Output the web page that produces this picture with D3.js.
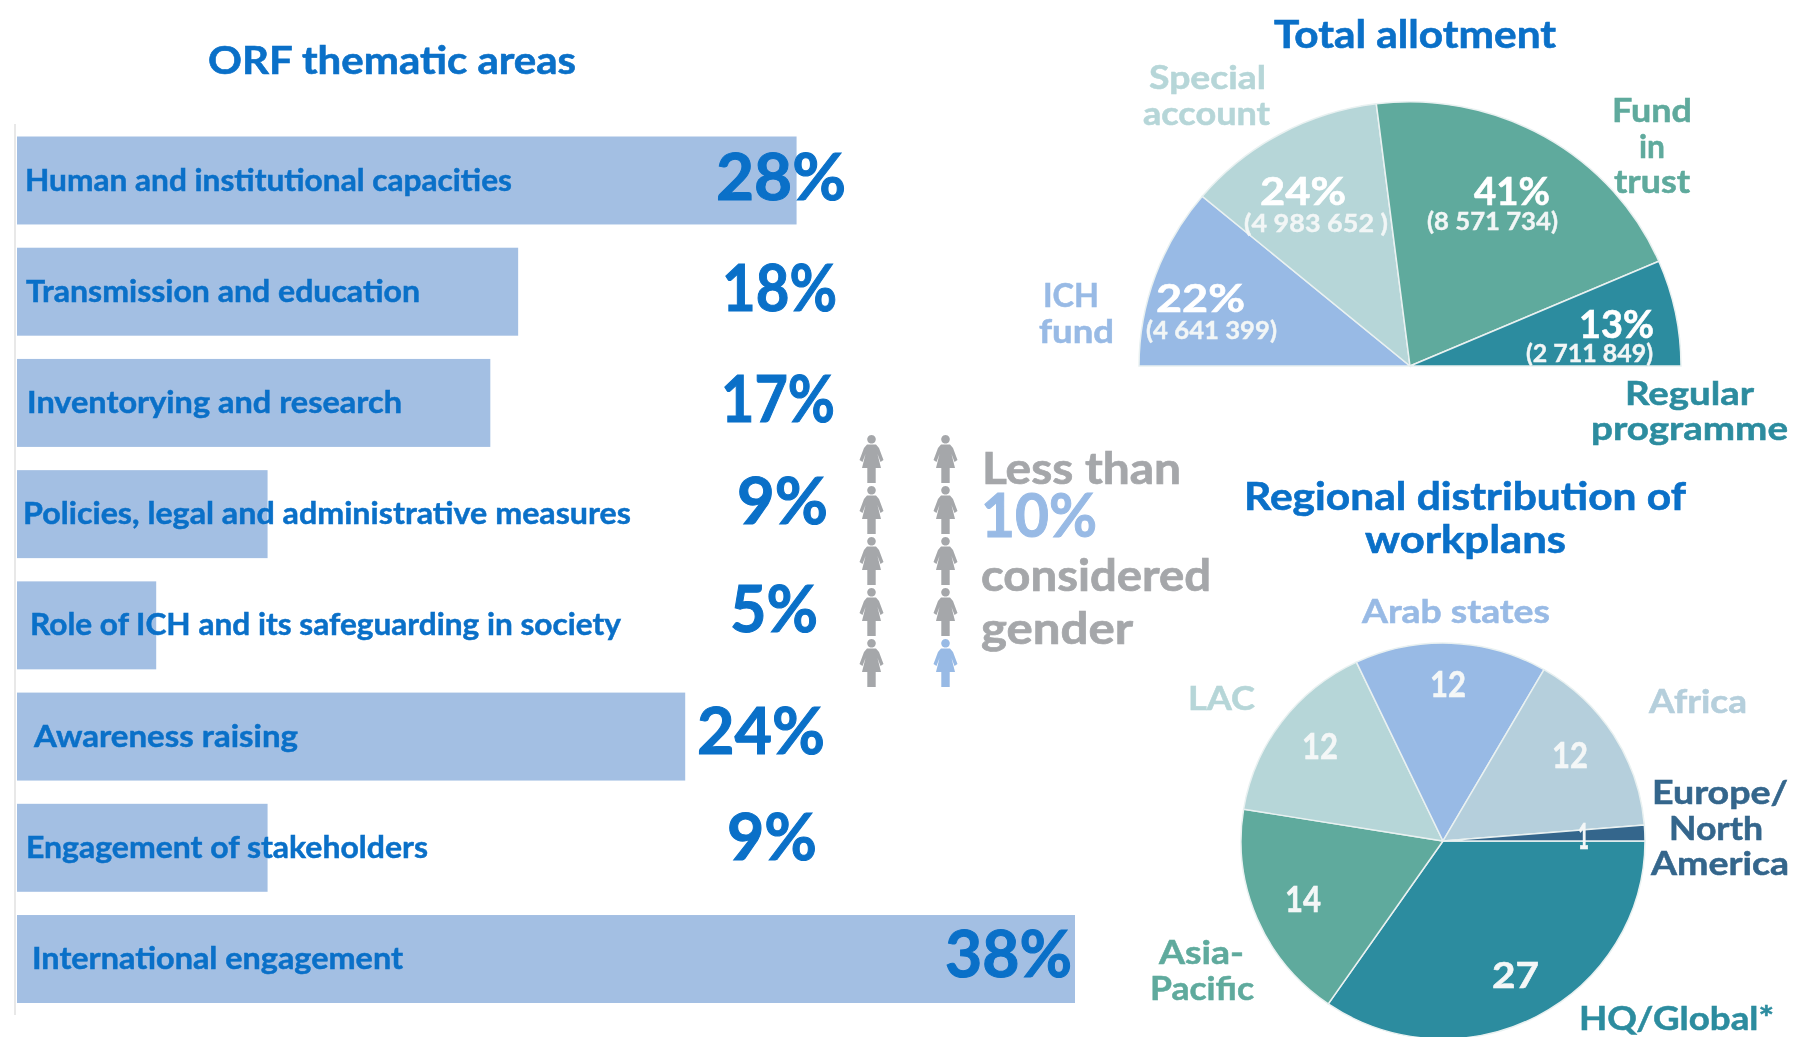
<!DOCTYPE html>
<html><head><meta charset="utf-8">
<style>html,body{margin:0;padding:0;background:#fff;overflow:hidden}svg{display:block;filter:blur(.6px)}text{font-family:Lato,sans-serif;font-weight:700}</style>
<script src="https://cdn.jsdelivr.net/npm/d3@7"></script></head><body>
<script>
// ---- data ----
const areaNames=["Human and institutional capacities","Transmission and education","Inventorying and research","Policies, legal and administrative measures","Role of ICH and its safeguarding in society","Awareness raising","Engagement of stakeholders","International engagement"];
const areaShares=[28,18,17,9,5,24,9,38];
const fundNames=["ICH fund","Special account","Fund in trust","Regular programme"];
const fundAmounts=[4641399,4983652,8571734,2711849];
const fundShares=[22,24,41,13];
const fundAmountLabels=["(4 641 399)","(4 983 652 )","(8 571 734)","(2 711 849)"];
const regionNames=["HQ/Global*","Asia-Pacific","LAC","Arab states","Africa","Europe/North America"];
const regionCounts=[27,14,12,12,12,1];
const genderIcons=[0,1,0,1,0,1,0,1,0,2];
const genderLines=["Less than","10%","considered","gender"];

// ---- style and layout ----
const BLUE="#0a70c8",LIGHT="#98bae5",BAR="#a3bfe3",PALE="#b6d6d8",GREEN="#5faa9d",TEAL="#2c8c9f",ICE="#b5cfdc",NAVY="#34668c",GREY="#a5a7aa";
const W=1794,H=1037;
const svg=d3.select("body").append("svg").attr("width",W).attr("height",H);
function T(s,x0,x1,base,size,fill){
  return svg.append("text").text(s).attr("x",x0).attr("y",base).attr("font-size",size).attr("fill",fill)
    .attr("stroke",fill).attr("stroke-width",size*0.016)
    .attr("textLength",x1-x0).attr("lengthAdjust","spacingAndGlyphs");
}

// ---- bars ----
const x=d3.scaleLinear().domain([0,38]).range([17,1075]);
const y=d3.scaleBand().domain(areaNames).range([136.5,1003]).paddingInner(.209);
svg.append("line").attr("x1",15).attr("x2",15).attr("y1",124).attr("y2",1015).attr("stroke","#e8e8e8").attr("stroke-width",2);
svg.selectAll("rect.bar").data(areaNames).join("rect").attr("class","bar")
  .attr("x",x(0)).attr("y",d=>y(d)).attr("height",y.bandwidth())
  .attr("width",(d,i)=>x(areaShares[i])-x(0)).attr("fill",BAR);
T("ORF thematic areas",208,576,74,39,BLUE);
const areaLabelX=[[25,512],[26,420],[27,402],[23,631],[30,621],[34,298],[26,428],[32,403]];
const areaPctX=[[716,846],[722,837],[721,835],[737,828],[730,818],[697,825],[727,817],[945,1072]];
const areaPctBase=[200,311,422,524,632,754,860,977];
areaNames.forEach((n,i)=>{
  T(n,areaLabelX[i][0],areaLabelX[i][1],y(n)+54,30,BLUE);
  T(areaShares[i]+"%",areaPctX[i][0],areaPctX[i][1],areaPctBase[i],65,BLUE);
});

// ---- half pie ----
const semi=d3.pie().sort(null).startAngle(-Math.PI/2).endAngle(Math.PI/2)(fundAmounts);
const semiArc=d3.arc().innerRadius(0).outerRadius(271);
const fundColors=[LIGHT,PALE,GREEN,TEAL];
svg.append("g").attr("transform","translate(1410,366) scale(1,.975)").selectAll("path").data(semi).join("path")
  .attr("d",semiArc).attr("fill",(d,i)=>fundColors[i]).attr("stroke","#e9f1f1").attr("stroke-width",1.5);
T("Total allotment",1274,1556,48,39,BLUE);
T("Special",1149,1266,89,33,PALE);T("account",1143,1270,125,33,PALE);
T("Fund",1612,1692,122,33,GREEN);T("in",1639,1665,158,33,GREEN);T("trust",1614,1690,193,33,GREEN);
T("ICH",1043,1099,307,33,LIGHT);T("fund",1039,1114,343,33,LIGHT);
T("Regular",1625,1754,405,33,TEAL);T("programme",1591,1788,440,33,TEAL);
const fundPct=[[1156,1245,312],[1260,1346,205],[1474,1550,205],[1579,1654,338]];
const fundAmt=[[1146,1277,339],[1244,1388,232],[1427,1558,230],[1526,1653,362]];
fundShares.forEach((v,i)=>{
  T(v+"%",fundPct[i][0],fundPct[i][1],fundPct[i][2],39,"#fff");
  T(fundAmountLabels[i],fundAmt[i][0],fundAmt[i][1],fundAmt[i][2],25,"#f2f6f6");
});

// ---- regional pie ----
const pie=d3.pie().sort(null).startAngle(Math.PI/2).endAngle(Math.PI/2+2*Math.PI)(regionCounts);
const pieArc=d3.arc().innerRadius(0).outerRadius(202);
const regionColors=[TEAL,GREEN,PALE,LIGHT,ICE,NAVY];
svg.append("g").attr("transform","translate(1443,841) scale(1,.98)").selectAll("path").data(pie).join("path")
  .attr("d",pieArc).attr("fill",(d,i)=>regionColors[i]).attr("stroke","#e9f1f1").attr("stroke-width",1.5);
T("Regional distribution of",1244,1686,510,39,BLUE);
T("workplans",1365,1566,553,39,BLUE);
T("Arab states",1362,1550,623,33,LIGHT);
T("LAC",1188,1255,710,33,PALE);
T("Africa",1649,1747,713,33,ICE);
T("Europe/",1652,1788,804,33,NAVY);T("North",1669,1763,840,33,NAVY);T("America",1651,1789,875,33,NAVY);
T("Asia-",1159,1244,964,33,GREEN);T("Pacific",1150,1254,1000,33,GREEN);
T("HQ/Global*",1579,1774,1030,33,TEAL);
const regionNum=[[1492,1539,988],[1285,1321,912],[1302,1338,759],[1430,1466,697],[1552,1588,768],[1578,1589,849]];
regionCounts.forEach((v,i)=>T(String(v),regionNum[i][0],regionNum[i][1],regionNum[i][2],36,"#f4f7f7"));

// ---- gender icons ----
const glyph="M12.5 0a4.3 4.3 0 1 1-.01 0ZM8 9.5H17L20 13L24.5 25L21.5 27L18.5 19L22 33H16.7V48H8.3V33H3L6.5 19L3.5 27L.5 25L5 13Z";
const iconX=d3.scalePoint().domain([0,1]).range([859,933]);
const iconY=d3.scalePoint().domain([0,1,2,3,4]).range([435,639]);
svg.selectAll("path.icon").data(genderIcons).join("path").attr("class","icon").attr("d",glyph)
  .attr("transform",(d,i)=>`translate(${iconX(i%2)},${iconY(Math.floor(i/2))})`)
  .attr("fill",d=>d===2?LIGHT:GREY);
T(genderLines[0],982,1181,484,44,GREY);
T(genderLines[1],981,1097,537,62,LIGHT);
T(genderLines[2],981,1211,591,44,GREY);
T(genderLines[3],981,1133,644,44,GREY);
</script></body></html>
